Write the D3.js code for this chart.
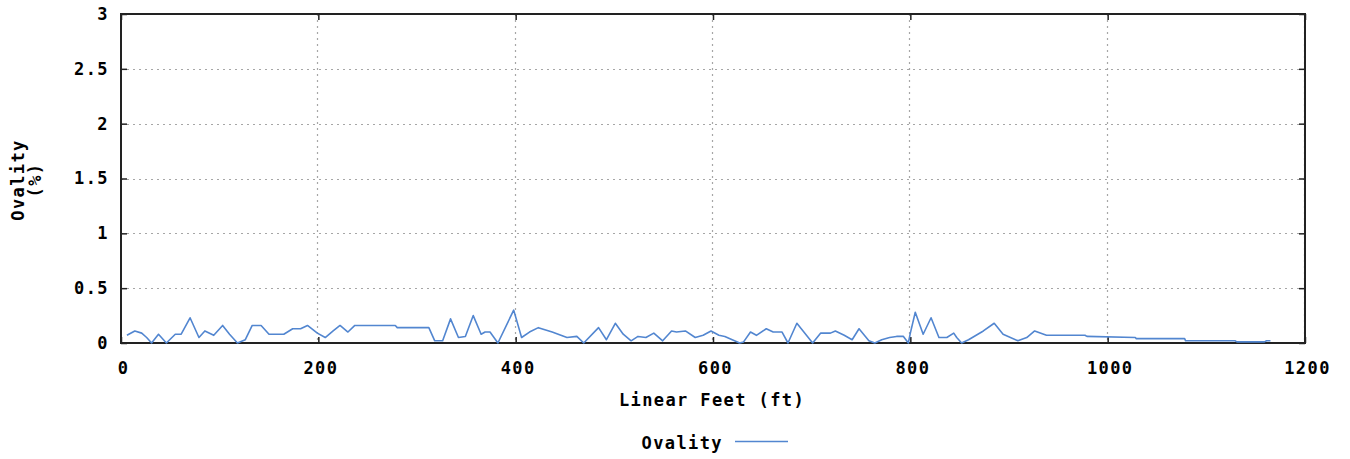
<!DOCTYPE html>
<html>
<head>
<meta charset="utf-8">
<script src="https://cdn.jsdelivr.net/npm/d3@7"></script>
<style>
  html, body { margin: 0; padding: 0; background: #fff; }
  svg text { font-family: "DejaVu Sans Mono", "Liberation Mono", monospace; font-weight: bold; fill: #000; }
</style>
</head>
<body>
<svg id="chart" width="1350" height="459"></svg>
<script>
// Distance along the pipe (ft) and measured ovality (%)
const feet = [6,14,21,26,31,38,46,55,61,70,79,85,94,103,110,118,126,133,142,150,165,174,182,189,199,207,215,222,230,237,278,280,312,318,326,334,342,349,357,365,369,374,382,398,406,414,423,437,452,462,469,484,492,501,509,517,524,532,540,549,558,563,572,582,590,598,606,612,627,631,638,644,654,661,670,676,685,701,709,719,724,733,741,748,758,764,771,779,786,793,798,800,805,813,821,829,837,844,847,852,859,874,885,894,909,918,926,938,977,979,1028,1029,1078,1079,1129,1131,1159,1161,1165];
const ovality = [0.07,0.11,0.09,0.05,0.0,0.08,0.0,0.08,0.08,0.23,0.05,0.11,0.07,0.16,0.08,0.0,0.03,0.16,0.16,0.08,0.08,0.13,0.13,0.16,0.09,0.05,0.11,0.16,0.1,0.16,0.16,0.14,0.14,0.02,0.02,0.22,0.05,0.06,0.25,0.08,0.1,0.1,0.0,0.3,0.05,0.1,0.14,0.1,0.05,0.06,0.0,0.14,0.03,0.18,0.08,0.02,0.06,0.05,0.09,0.02,0.11,0.1,0.11,0.05,0.07,0.11,0.07,0.06,0.0,0.01,0.1,0.07,0.13,0.1,0.1,0.0,0.18,0.0,0.09,0.09,0.11,0.07,0.03,0.13,0.02,0.0,0.03,0.05,0.06,0.06,0.0,0.09,0.28,0.08,0.23,0.05,0.05,0.09,0.05,0.0,0.03,0.11,0.18,0.08,0.02,0.05,0.11,0.07,0.07,0.06,0.05,0.04,0.04,0.02,0.02,0.01,0.01,0.02,0.02];

const xTicks = [0, 200, 400, 600, 800, 1000, 1200];
const yTicks = [0, 0.5, 1, 1.5, 2, 2.5, 3];
const yTickLabels = ["0", "0.5", "1", "1.5", "2", "2.5", "3"];
const seriesName = "Ovality";
const xTitle = "Linear Feet (ft)";
const yTitleLines = ["Ovality", "(%)"];

const svg = d3.select("#chart");
const plot = { left: 121, right: 1305, top: 14, bottom: 343 };

const x = d3.scaleLinear().domain([0, 1200]).range([plot.left, plot.right]);
const y = d3.scaleLinear().domain([0, 3]).range([plot.bottom, plot.top]);

const lineColor = "#5286d0";
const gridColor = "#a6a6a6";
const fontSize = 17;
const spacing = 1.4;

// dotted grid
const grid = svg.append("g");
grid.selectAll("line.gx").data(xTicks.slice(1)).join("line")
  .attr("x1", d => Math.round(x(d)) - 0.5).attr("x2", d => Math.round(x(d)) - 0.5)
  .attr("y1", plot.top).attr("y2", plot.bottom)
  .attr("stroke", gridColor).attr("stroke-width", 1.2).attr("stroke-dasharray", "2,4");
grid.selectAll("line.gy").data(yTicks.slice(1)).join("line")
  .attr("x1", plot.left).attr("x2", plot.right)
  .attr("y1", d => Math.round(y(d)) + 0.5).attr("y2", d => Math.round(y(d)) + 0.5)
  .attr("stroke", gridColor).attr("stroke-width", 1.2).attr("stroke-dasharray", "2,4");

function styleTicks(g) {
  g.select(".domain").remove();
  g.selectAll(".tick line").attr("stroke", "#222").attr("stroke-width", 1.5);
  g.selectAll(".tick text").attr("font-size", fontSize).attr("letter-spacing", spacing)
    .attr("font-family", "DejaVu Sans Mono").attr("font-weight", "bold").attr("fill", "#000");
}

// axes with inward ticks
const gx = svg.append("g").attr("transform", `translate(0,${plot.bottom})`)
  .call(d3.axisBottom(x).tickValues(xTicks).tickSize(-6).tickFormat(d3.format("d")));
styleTicks(gx);
gx.selectAll(".tick text").attr("y", 19).attr("dy", "0.71em").attr("dx", 2);

const gy = svg.append("g").attr("transform", `translate(${plot.left},0)`)
  .call(d3.axisLeft(y).tickValues(yTicks).tickSize(-6).tickFormat((d, i) => yTickLabels[i]));
styleTicks(gy);
gy.selectAll(".tick text").attr("x", -12);

// mirrored ticks on top and right
const gxt = svg.append("g").attr("transform", `translate(0,${plot.top})`)
  .call(d3.axisTop(x).tickValues(xTicks).tickSize(-6).tickFormat(""));
styleTicks(gxt);
const gyr = svg.append("g").attr("transform", `translate(${plot.right},0)`)
  .call(d3.axisRight(y).tickValues(yTicks).tickSize(-6).tickFormat(""));
styleTicks(gyr);

// frame
svg.append("rect").attr("x", plot.left).attr("y", plot.top)
  .attr("width", plot.right - plot.left).attr("height", plot.bottom - plot.top)
  .attr("fill", "none").attr("stroke", "#222").attr("stroke-width", 2);

// data line
const line = d3.line().x((d, i) => x(feet[i])).y(d => y(d));
svg.append("path").datum(ovality)
  .attr("d", line).attr("fill", "none")
  .attr("stroke", lineColor).attr("stroke-width", 1.6)
  .attr("stroke-linejoin", "round");

// axis titles
svg.append("text").attr("x", 712).attr("y", 406)
  .attr("text-anchor", "middle").attr("font-size", fontSize).attr("letter-spacing", spacing)
  .text(xTitle);

const yt = svg.append("text").attr("transform", "translate(24,180) rotate(-90)")
  .attr("text-anchor", "middle").attr("font-size", fontSize).attr("letter-spacing", spacing);
yt.selectAll("tspan").data(yTitleLines).join("tspan")
  .attr("x", 0).attr("dy", (d, i) => i === 0 ? 0 : 17).text(d => d);

// legend
svg.append("text").attr("x", 723).attr("y", 449)
  .attr("text-anchor", "end").attr("font-size", fontSize).attr("letter-spacing", spacing)
  .text(seriesName);
svg.append("line").attr("x1", 735).attr("x2", 788).attr("y1", 441.5).attr("y2", 441.5)
  .attr("stroke", lineColor).attr("stroke-width", 1.6);
</script>
</body>
</html>
